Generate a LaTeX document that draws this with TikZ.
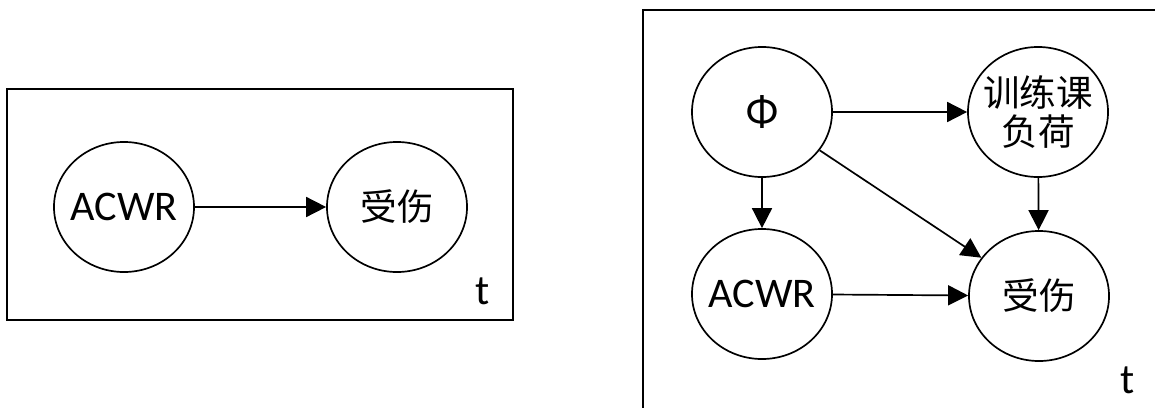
\documentclass[tikz,border=0pt]{standalone}
\usepackage{fontspec}
\setmainfont{Carlito}
\newfontfamily\cjk{Noto Sans CJK SC}
\usetikzlibrary{arrows.meta, shapes.geometric}

\begin{document}
\begin{tikzpicture}[
    x=0.025cm, y=-0.025cm,
    font=\fontsize{26}{30}\selectfont,
    var/.style={draw, ellipse, line width=1.2pt, inner sep=-4pt, minimum width=3.5cm, minimum height=3.25cm, align=center},
    latin/.style={font=\fontsize{30}{36}\selectfont},
    plate/.style={draw, line width=1.2pt},
    arrow/.style={-{Triangle[length=0.5cm, width=0.5cm]}, line width=1.2pt}
]
  \useasboundingbox (0,0) rectangle (1155,407);
  \begin{scope}
  \clip (0,0) rectangle (1155,407);

  % single-node model
  \draw[plate] (7,89) rectangle (513,320);
  \node[var, latin] (acwrA) at (124,207) {ACWR};
  \node[var] (injA) at (397,207) {\cjk 受伤};
  \node[latin] (tA) at (483,291) {t};
  \draw[arrow] (acwrA) -- (injA);

  % model with latent fitness
  \draw[plate] (643,10) rectangle (1165,420);
  \node[var] (phi) at (762,112) {\cjk\fontsize{30}{30}\selectfont Φ};
  \node[var] (load) at (1038,112) {\cjk 训练课\\[-2pt]\cjk 负荷};
  \node[var, latin] (acwrB) at (762,294) {ACWR};
  \node[var] (injB) at (1039,296) {\cjk 受伤};
  \node[latin] (tB) at (1128,380) {t};
  \draw[arrow] (phi) -- (load);
  \draw[arrow] (phi) -- (acwrB);
  \draw[arrow] (phi) -- (injB);
  \draw[arrow] (load) -- (injB);
  \draw[arrow] (acwrB) -- (injB);
  \end{scope}
\end{tikzpicture}
\end{document}
